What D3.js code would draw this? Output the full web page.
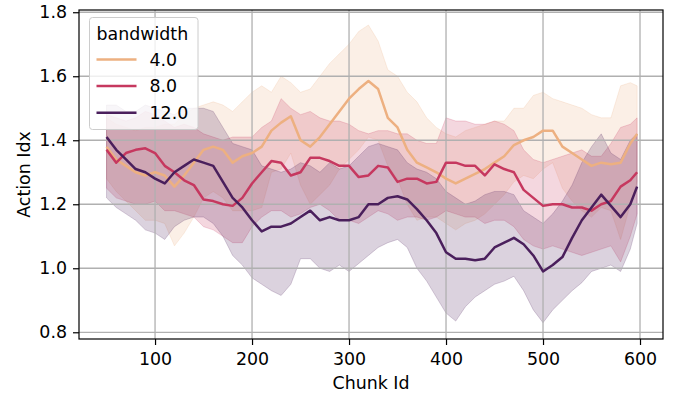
<!DOCTYPE html>
<html>
<head>
<meta charset="utf-8">
<script src="https://cdn.jsdelivr.net/npm/d3@7"></script>
<style>
  body { margin: 0; background: #fff; }
  svg text { font-family: "DejaVu Sans", sans-serif; }
</style>
</head>
<body>
<svg id="chart"></svg>
<script>
// chunk ids sampled along the x axis
const chunkId = [50, 60, 70, 80, 90, 100, 110, 120, 130, 140, 150, 160, 170, 180, 190, 200,
  210, 220, 230, 240, 250, 260, 270, 280, 290, 300, 310, 320, 330, 340, 350, 360, 370, 380,
  390, 400, 410, 420, 430, 440, 450, 460, 470, 480, 490, 500, 510, 520, 530, 540, 550, 560,
  570, 580, 590, 597];

// bandwidth 4.0
const mean4 = [1.38, 1.34, 1.32, 1.30, 1.29, 1.30, 1.29, 1.255, 1.29, 1.33, 1.37, 1.38, 1.37, 1.33, 1.35, 1.36,
  1.38, 1.43, 1.455, 1.475, 1.40, 1.38, 1.41, 1.45, 1.49, 1.53, 1.56, 1.585, 1.56, 1.47, 1.44, 1.37, 1.33, 1.315,
  1.30, 1.28, 1.265, 1.28, 1.295, 1.31, 1.33, 1.35, 1.385, 1.40, 1.41, 1.43, 1.43, 1.38, 1.36, 1.34, 1.32, 1.33,
  1.325, 1.33, 1.39, 1.42];
const lo4 = [1.28, 1.24, 1.21, 1.18, 1.15, 1.15, 1.14, 1.07, 1.11, 1.16, 1.22, 1.24, 1.22, 1.18, 1.18, 1.18,
  1.19, 1.30, 1.31, 1.36, 1.26, 1.20, 1.23, 1.26, 1.31, 1.34, 1.37, 1.41, 1.40, 1.32, 1.28, 1.20, 1.15, 1.16,
  1.16, 1.14, 1.12, 1.14, 1.15, 1.17, 1.20, 1.23, 1.27, 1.29, 1.28, 1.31, 1.33, 1.25, 1.21, 1.18, 1.16, 1.19,
  1.18, 1.09, 1.20, 1.27];
const hi4 = [1.47, 1.45, 1.44, 1.43, 1.44, 1.44, 1.45, 1.45, 1.48, 1.50, 1.51, 1.52, 1.51, 1.49, 1.52, 1.55,
  1.57, 1.55, 1.60, 1.58, 1.55, 1.56, 1.60, 1.64, 1.67, 1.70, 1.74, 1.76, 1.71, 1.62, 1.60, 1.55, 1.52, 1.47,
  1.44, 1.42, 1.41, 1.43, 1.44, 1.45, 1.46, 1.46, 1.50, 1.50, 1.54, 1.55, 1.53, 1.52, 1.51, 1.50, 1.48, 1.47,
  1.47, 1.57, 1.58, 1.57];

// bandwidth 8.0
const mean8 = [1.37, 1.33, 1.36, 1.37, 1.375, 1.36, 1.32, 1.30, 1.275, 1.26, 1.215, 1.21, 1.20, 1.195, 1.22, 1.265,
  1.30, 1.335, 1.33, 1.29, 1.30, 1.345, 1.345, 1.335, 1.32, 1.32, 1.285, 1.29, 1.32, 1.315, 1.27, 1.28, 1.28, 1.265,
  1.27, 1.33, 1.33, 1.32, 1.32, 1.29, 1.325, 1.31, 1.30, 1.245, 1.22, 1.195, 1.20, 1.20, 1.19, 1.19, 1.18, 1.20,
  1.21, 1.255, 1.275, 1.30];
const lo8 = [1.25, 1.22, 1.21, 1.20, 1.20, 1.21, 1.18, 1.18, 1.17, 1.16, 1.13, 1.12, 1.10, 1.08, 1.08, 1.13,
  1.16, 1.18, 1.18, 1.16, 1.17, 1.19, 1.20, 1.18, 1.15, 1.15, 1.14, 1.16, 1.18, 1.17, 1.15, 1.16, 1.16, 1.15,
  1.16, 1.18, 1.17, 1.16, 1.16, 1.14, 1.15, 1.15, 1.13, 1.09, 1.07, 1.06, 1.07, 1.06, 1.05, 1.04, 1.05, 1.06,
  1.07, 1.02, 1.10, 1.17];
const hi8 = [1.48, 1.47, 1.46, 1.47, 1.49, 1.48, 1.46, 1.44, 1.45, 1.44, 1.42, 1.41, 1.40, 1.41, 1.41, 1.41,
  1.44, 1.46, 1.53, 1.50, 1.48, 1.49, 1.47, 1.46, 1.46, 1.45, 1.43, 1.42, 1.43, 1.43, 1.42, 1.42, 1.40, 1.39,
  1.39, 1.47, 1.46, 1.46, 1.45, 1.45, 1.46, 1.45, 1.43, 1.37, 1.34, 1.33, 1.34, 1.35, 1.36, 1.37, 1.35, 1.35,
  1.39, 1.44, 1.45, 1.47];

// bandwidth 12.0
const mean12 = [1.41, 1.37, 1.34, 1.31, 1.30, 1.28, 1.265, 1.30, 1.32, 1.34, 1.33, 1.32, 1.27, 1.22, 1.19, 1.15,
  1.115, 1.13, 1.13, 1.14, 1.16, 1.18, 1.15, 1.16, 1.15, 1.15, 1.16, 1.20, 1.20, 1.22, 1.225, 1.215, 1.185, 1.15,
  1.11, 1.05, 1.03, 1.03, 1.025, 1.03, 1.065, 1.08, 1.095, 1.075, 1.04, 0.99, 1.01, 1.035, 1.095, 1.15, 1.19, 1.23,
  1.195, 1.16, 1.20, 1.255];
const lo12 = [1.22, 1.19, 1.17, 1.15, 1.12, 1.11, 1.09, 1.13, 1.15, 1.16, 1.16, 1.14, 1.10, 1.04, 1.01, 0.97,
  0.95, 0.93, 0.915, 0.95, 1.03, 1.03, 1.00, 0.99, 1.01, 0.99, 1.015, 1.04, 1.065, 1.08, 1.09, 1.065, 1.00, 0.96,
  0.91, 0.86, 0.835, 0.88, 0.91, 0.93, 0.95, 0.96, 0.975, 0.93, 0.87, 0.83, 0.87, 0.90, 0.93, 0.955, 0.99, 1.00,
  1.01, 0.99, 1.06, 1.14];
const hi12 = [1.51, 1.51, 1.49, 1.49, 1.51, 1.50, 1.49, 1.48, 1.50, 1.50, 1.50, 1.49, 1.44, 1.39, 1.38, 1.37,
  1.32, 1.31, 1.30, 1.31, 1.33, 1.32, 1.30, 1.33, 1.31, 1.32, 1.35, 1.38, 1.39, 1.38, 1.37, 1.33, 1.31, 1.30,
  1.28, 1.24, 1.22, 1.20, 1.21, 1.23, 1.24, 1.24, 1.23, 1.18, 1.16, 1.14, 1.17, 1.21, 1.26, 1.33, 1.38, 1.42,
  1.36, 1.34, 1.40, 1.42];

const bandwidths = ["4.0", "8.0", "12.0"];
const colors = ["#edb081", "#c6385f", "#4a1f5c"];
const xTicks = [100, 200, 300, 400, 500, 600];
const yTicks = [0.8, 1.0, 1.2, 1.4, 1.6, 1.8];

const series = [
  { name: bandwidths[0], mean: mean4, lo: lo4, hi: hi4, color: colors[0] },
  { name: bandwidths[1], mean: mean8, lo: lo8, hi: hi8, color: colors[1] },
  { name: bandwidths[2], mean: mean12, lo: lo12, hi: hi12, color: colors[2] }
];

const width = 676, height = 395;
const margin = { top: 10, right: 13, bottom: 56, left: 79 };
const fontSize = "17.4px";

const svg = d3.select("#chart").attr("width", width).attr("height", height);

const x = d3.scaleLinear().domain([21.6, 623.7]).range([margin.left, width - margin.right]);
const y = d3.scaleLinear().domain([0.779, 1.807]).range([height - margin.bottom, margin.top]);

// confidence bands, drawn under the grid
const area = d3.area()
  .x((d, i) => x(chunkId[i]))
  .y0(d => y(d[0]))
  .y1(d => y(d[1]));

series.forEach(s => {
  const pts = s.lo.map((v, i) => [v, s.hi[i]]);
  svg.append("path")
    .attr("d", area(pts))
    .attr("fill", s.color)
    .attr("fill-opacity", 0.2)
    .attr("stroke", s.color)
    .attr("stroke-opacity", 0.2)
    .attr("stroke-width", 1);
});

// grid
const grid = svg.append("g");
grid.selectAll(".gx").data(xTicks).enter().append("line")
  .attr("x1", d => x(d)).attr("x2", d => x(d))
  .attr("y1", margin.top).attr("y2", height - margin.bottom)
  .attr("stroke", "#b0b0b0").attr("stroke-width", 1.3);
grid.selectAll(".gy").data(yTicks).enter().append("line")
  .attr("x1", margin.left).attr("x2", width - margin.right)
  .attr("y1", d => y(d)).attr("y2", d => y(d))
  .attr("stroke", "#b0b0b0").attr("stroke-width", 1.3);

// mean lines
const line = d3.line()
  .x((d, i) => x(chunkId[i]))
  .y(d => y(d));

series.forEach(s => {
  svg.append("path")
    .attr("d", line(s.mean))
    .attr("fill", "none")
    .attr("stroke", s.color)
    .attr("stroke-width", 2.5)
    .attr("stroke-linejoin", "round");
});

// axes
const xAxis = d3.axisBottom(x).tickValues(xTicks).tickFormat(d3.format("d")).tickSize(6).tickPadding(8);
const yAxis = d3.axisLeft(y).tickValues(yTicks).tickFormat(d3.format(".1f")).tickSize(6).tickPadding(6);

const gx = svg.append("g")
  .attr("transform", `translate(0,${height - margin.bottom})`)
  .call(xAxis);
const gy = svg.append("g")
  .attr("transform", `translate(${margin.left},0)`)
  .call(yAxis);

[gx, gy].forEach(g => {
  g.select(".domain").remove();
  g.selectAll(".tick line").attr("stroke", "#000").attr("stroke-width", 1.2);
  g.selectAll(".tick text").attr("fill", "#000").style("font-size", fontSize);
});

// frame
svg.append("rect")
  .attr("x", margin.left).attr("y", margin.top)
  .attr("width", width - margin.left - margin.right)
  .attr("height", height - margin.top - margin.bottom)
  .attr("fill", "none").attr("stroke", "#000").attr("stroke-width", 1.2);

// axis labels
svg.append("text")
  .attr("x", (margin.left + width - margin.right) / 2)
  .attr("y", 389)
  .attr("text-anchor", "middle")
  .style("font-size", fontSize)
  .text("Chunk Id");

svg.append("text")
  .attr("transform", `translate(30,${(margin.top + height - margin.bottom) / 2}) rotate(-90)`)
  .attr("text-anchor", "middle")
  .style("font-size", fontSize)
  .text("Action Idx");

// legend
const lg = svg.append("g").attr("transform", "translate(89.5,17.5)");
lg.append("rect")
  .attr("width", 108.5).attr("height", 112).attr("rx", 3)
  .attr("fill", "#fff").attr("fill-opacity", 0.8)
  .attr("stroke", "#cccccc").attr("stroke-width", 1);
lg.append("text")
  .attr("x", 7).attr("y", 22)
  .style("font-size", fontSize)
  .text("bandwidth");
series.forEach((s, i) => {
  const cy = 42 + i * 26.6;
  lg.append("line")
    .attr("x1", 7).attr("x2", 47)
    .attr("y1", cy).attr("y2", cy)
    .attr("stroke", s.color).attr("stroke-width", 2.5);
  lg.append("text")
    .attr("x", 60).attr("y", cy + 6.3)
    .style("font-size", fontSize)
    .text(s.name);
});
</script>
</body>
</html>
